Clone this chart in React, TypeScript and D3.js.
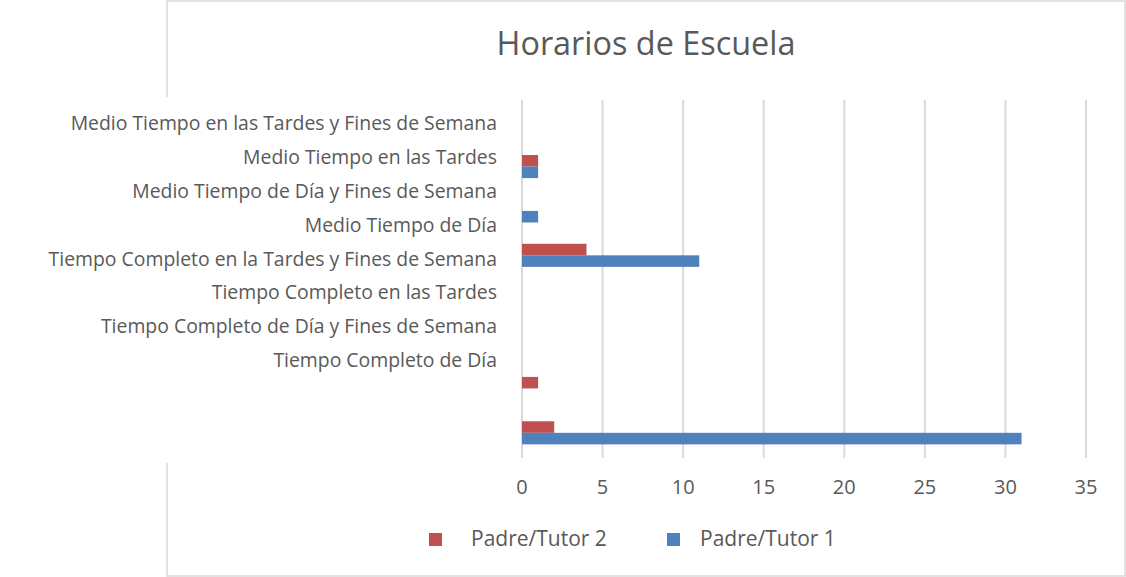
import React from 'react';
import * as d3 from 'd3';

// categories, top to bottom as the bars are drawn
const categories = [
  'Medio Tiempo en las Tardes y Fines de Semana',
  'Medio Tiempo en las Tardes',
  'Medio Tiempo de Día y Fines de Semana',
  'Medio Tiempo de Día',
  'Tiempo Completo en la Tardes y Fines de Semana',
  'Tiempo Completo en las Tardes',
  'Tiempo Completo de Día y Fines de Semana',
  'Tiempo Completo de Día',
];
const padreTutor1 = [0, 1, 1, 11, 0, 0, 0, 31];
const padreTutor2 = [0, 1, 0, 4, 0, 0, 1, 2];
const xTicks = [0, 5, 10, 15, 20, 25, 30, 35];
const seriesNames = ['Padre/Tutor 2', 'Padre/Tutor 1'];

const width = 1126;
const height = 577;
const font = '"Open Sans", Lato, sans-serif';
const textColor = '#595959';
const gridColor = '#d9d9d9';
const colors: Record<string, string> = {
  'Padre/Tutor 2': '#C0504D',
  'Padre/Tutor 1': '#4F81BD',
};

export default function App() {
  const x = d3.scaleLinear().domain([0, 35]).range([522, 1086]);

  const y = d3.scaleBand<string>()
    .domain(categories)
    .range([100, 455])
    .paddingInner(0.48)
    .paddingOuter(0.24);

  const inner = d3.scaleBand<string>()
    .domain(seriesNames)
    .range([0, y.bandwidth()]);

  // the category labels sit on their own (tighter) spacing in the original
  const labelY = d3.scalePoint<string>()
    .domain(categories)
    .range([125, 362]);

  const rows = categories.map((c, i) => ({
    cat: c,
    values: [
      { name: 'Padre/Tutor 2', v: padreTutor2[i] },
      { name: 'Padre/Tutor 1', v: padreTutor1[i] },
    ],
  }));

  const legend = [
    { name: 'Padre/Tutor 2', x: 429, tx: 471 },
    { name: 'Padre/Tutor 1', x: 667, tx: 700 },
  ];

  return (
    <svg
      width={width}
      height={height}
      style={{ position: 'absolute', left: 0, top: 0, background: '#fff' }}
      fontFamily={font}
    >
      {/* chart frame */}
      <rect x={167} y={1} width={958} height={575} fill="#fff" stroke={gridColor} strokeWidth={1.5} />
      {/* label area covers the frame's left edge */}
      <rect x={0} y={97} width={505} height={366} fill="#fff" />

      <text x={646} y={46} textAnchor="middle" dominantBaseline="middle" fontSize={32.4} fill={textColor}>
        Horarios de Escuela
      </text>

      {/* gridlines */}
      {xTicks.map(t => (
        <line key={t} x1={x(t)} x2={x(t)} y1={100} y2={458} stroke={gridColor} strokeWidth={2} />
      ))}

      {/* bars */}
      {rows.map(r => (
        <g key={r.cat} transform={`translate(0,${y(r.cat)})`}>
          {r.values.filter(d => d.v > 0).map(d => (
            <rect
              key={d.name}
              x={x(0)}
              y={inner(d.name)}
              width={x(d.v) - x(0)}
              height={inner.bandwidth()}
              fill={colors[d.name]}
            />
          ))}
        </g>
      ))}

      {/* category labels */}
      {categories.map(c => (
        <text key={c} x={497} y={labelY(c)} textAnchor="end" dominantBaseline="middle" fontSize={19.4} fill={textColor}>
          {c}
        </text>
      ))}

      {/* x tick labels */}
      {xTicks.map(t => (
        <text key={t} x={x(t)} y={489} textAnchor="middle" dominantBaseline="middle" fontSize={20} fill={textColor}>
          {t}
        </text>
      ))}

      {/* legend */}
      {legend.map(l => (
        <g key={l.name}>
          <rect x={l.x} y={533} width={13} height={13} fill={colors[l.name]} />
          <text x={l.tx} y={540} dominantBaseline="middle" fontSize={21} fill={textColor}>
            {l.name}
          </text>
        </g>
      ))}
    </svg>
  );
}
